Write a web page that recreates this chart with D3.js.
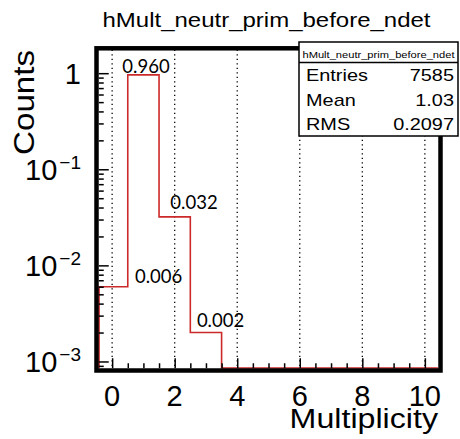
<!DOCTYPE html>
<html>
<head>
<meta charset="utf-8">
<script src="https://cdn.jsdelivr.net/npm/d3@7"></script>
<style>
  html, body { margin: 0; padding: 0; background: #fff; }
  svg { display: block; }
</style>
</head>
<body>
<svg id="chart" width="460" height="439"></svg>
<script>
// ---- data ----
const histName    = "hMult_neutr_prim_before_ndet";
const binCenters  = [0, 1, 2, 3, 4, 5, 6, 7, 8, 9, 10];
const binValues   = [0.006, 0.960, 0.032, 0.002, 0, 0, 0, 0, 0, 0, 0];
const labelledBins = [0, 1, 2, 3];
const xTickValues = [0, 2, 4, 6, 8, 10];
const yTickValues = [1e-3, 1e-2, 1e-1, 1];
const statNames   = ["Entries", "Mean", "RMS"];
const statValues  = ["7585", "1.03", "0.2097"];
const xTitle = "Multiplicity";
const yTitle = "Counts";

// ---- layout ----
const frame = { left: 96.5, right: 440.5, top: 48.3, bottom: 370.5 };
const frameWidth = 4.5;
const inset = frameWidth / 2 + 0.3;
const helv = "'Liberation Sans', Arial, Helvetica, sans-serif";
const WIDE = 1.17;                 // horizontal widening of the Helvetica text
const labelNudge = [[46.5, -3.7], [2.6, -2], [19.3, -8], [14.6, -6]];

const svg = d3.select("#chart");

const x = d3.scaleLinear().domain([-0.5, 10.5]).range([frame.left, frame.right]);
const y = d3.scaleLog()
  .domain([Math.pow(10, -3.094), Math.pow(10, 0.259)])
  .range([frame.bottom, frame.top]);

function widen(sel, k) {
  sel.each(function () {
    const len = this.getComputedTextLength();
    this.setAttribute("textLength", (len * k).toFixed(2));
    this.setAttribute("lengthAdjust", "spacingAndGlyphs");
  });
  return sel;
}

// dotted grid at the major x ticks
svg.append("g").selectAll("line").data(xTickValues).join("line")
  .attr("x1", d => x(d)).attr("x2", d => x(d))
  .attr("y1", frame.bottom).attr("y2", frame.top)
  .attr("stroke", "#000").attr("stroke-width", 1.3)
  .attr("stroke-dasharray", "1.3 3.2");

// histogram outline (empty bins sit on the lower edge)
const yBase = frame.bottom - inset;
const yOf = v => (v > 0 ? Math.min(y(v), yBase) : yBase);
const pts = [[x(-0.5) + inset, yBase]];
binCenters.forEach((c, i) => {
  const yy = yOf(binValues[i]);
  pts.push([Math.max(x(c - 0.5), frame.left + inset), yy]);
  pts.push([Math.min(x(c + 0.5), frame.right - inset), yy]);
});
pts.push([x(10.5) - inset, yBase]);
svg.append("path")
  .attr("d", d3.line()(pts))
  .attr("fill", "none")
  .attr("stroke", "#cc2a2a")
  .attr("stroke-width", 1.6);

// ticks (pointing into the frame)
const tickStyle = g => {
  g.select(".domain").remove();
  g.selectAll("line").attr("stroke", "#000").attr("stroke-width", 1.5);
};
const xMinor = d3.range(0.5, 10.5, 0.5).filter(v => v % 2 !== 0);
svg.append("g").attr("transform", `translate(0,${frame.bottom - frameWidth / 2})`)
  .call(d3.axisBottom(x).tickValues(xTickValues).tickSize(-10).tickFormat(""))
  .call(tickStyle);
svg.append("g").attr("transform", `translate(0,${frame.bottom - frameWidth / 2})`)
  .call(d3.axisBottom(x).tickValues(xMinor).tickSize(-5).tickFormat(""))
  .call(tickStyle);

const yMinor = [];
[-4, -3, -2, -1, 0].forEach(e => d3.range(2, 10).forEach(k => {
  const v = k * Math.pow(10, e);
  if (v > y.domain()[0] && v < y.domain()[1]) yMinor.push(v);
}));
svg.append("g").attr("transform", `translate(${frame.left + frameWidth / 2},0)`)
  .call(d3.axisLeft(y).tickValues(yTickValues).tickSize(-10).tickFormat(""))
  .call(tickStyle);
svg.append("g").attr("transform", `translate(${frame.left + frameWidth / 2},0)`)
  .call(d3.axisLeft(y).tickValues(yMinor).tickSize(-5).tickFormat(""))
  .call(tickStyle);

// thick frame
svg.append("rect")
  .attr("x", frame.left).attr("y", frame.top)
  .attr("width", frame.right - frame.left).attr("height", frame.bottom - frame.top)
  .attr("fill", "none").attr("stroke", "#000").attr("stroke-width", frameWidth);

// x tick labels
svg.append("g").selectAll("text").data(xTickValues).join("text")
  .attr("x", d => x(d)).attr("y", 406)
  .attr("text-anchor", "middle")
  .style("font-family", helv).style("font-size", "29px")
  .text(d => d);

// y tick labels: 1, 10^-1, 10^-2, 10^-3
const yLab = svg.append("g").selectAll("text").data(yTickValues).join("text")
  .attr("x", 81).attr("y", d => y(d) + 11)
  .attr("text-anchor", "end")
  .style("font-family", helv).style("font-size", "29px");
yLab.each(function (d) {
  const t = d3.select(this);
  const e = Math.round(Math.log10(d));
  if (e === 0) { t.text("1"); return; }
  t.append("tspan").text("10");
  t.append("tspan").attr("dx", 2).attr("dy", -11).style("font-size", "19px").text("\u2212" + (-e));
});

// axis titles
widen(svg.append("text")
  .attr("x", 438).attr("y", 428).attr("text-anchor", "end")
  .style("font-family", helv).style("font-size", "27.5px")
  .text(xTitle), WIDE);
svg.append("text")
  .attr("transform", "translate(34,50) rotate(-90)")
  .attr("text-anchor", "end")
  .attr("textLength", 105).attr("lengthAdjust", "spacingAndGlyphs")
  .style("font-family", helv).style("font-size", "29px")
  .text(yTitle);

// histogram title
widen(svg.append("text")
  .attr("x", 266.5).attr("y", 27).attr("text-anchor", "middle")
  .style("font-family", helv).style("font-size", "20.5px")
  .text(histName), WIDE);

// value labels on the filled bins
const fmt = d3.format(".3f");
svg.append("g").selectAll("text").data(labelledBins).join("text")
  .attr("x", (b, i) => x(binCenters[b]) + labelNudge[i][0])
  .attr("y", (b, i) => y(binValues[b]) + labelNudge[i][1])
  .attr("text-anchor", "middle")
  .style("font-family", "Lato, 'Open Sans', sans-serif").style("font-size", "18.5px")
  .text(b => fmt(binValues[b]));

// statistics box
const box = { x: 299, y: 42, w: 159, h: 94, sep: 62.5 };
const stats = svg.append("g");
stats.append("rect")
  .attr("x", box.x).attr("y", box.y).attr("width", box.w).attr("height", box.h)
  .attr("fill", "#fff").attr("stroke", "#000").attr("stroke-width", 1.5);
stats.append("line")
  .attr("x1", box.x).attr("x2", box.x + box.w).attr("y1", box.sep).attr("y2", box.sep)
  .attr("stroke", "#000").attr("stroke-width", 1.5);
widen(stats.append("text")
  .attr("x", box.x + box.w / 2).attr("y", 57.5).attr("text-anchor", "middle")
  .style("font-family", helv).style("font-size", "9.5px")
  .text(histName), WIDE);
const rowY = [81, 105.5, 130];
widen(stats.append("g").selectAll("text").data(statNames).join("text")
  .attr("x", box.x + 7).attr("y", (d, i) => rowY[i])
  .style("font-family", helv).style("font-size", "17px")
  .text(d => d), WIDE);
widen(stats.append("g").selectAll("text").data(statValues).join("text")
  .attr("x", box.x + box.w - 4).attr("y", (d, i) => rowY[i]).attr("text-anchor", "end")
  .style("font-family", helv).style("font-size", "17px")
  .text(d => d), WIDE);
</script>
</body>
</html>
